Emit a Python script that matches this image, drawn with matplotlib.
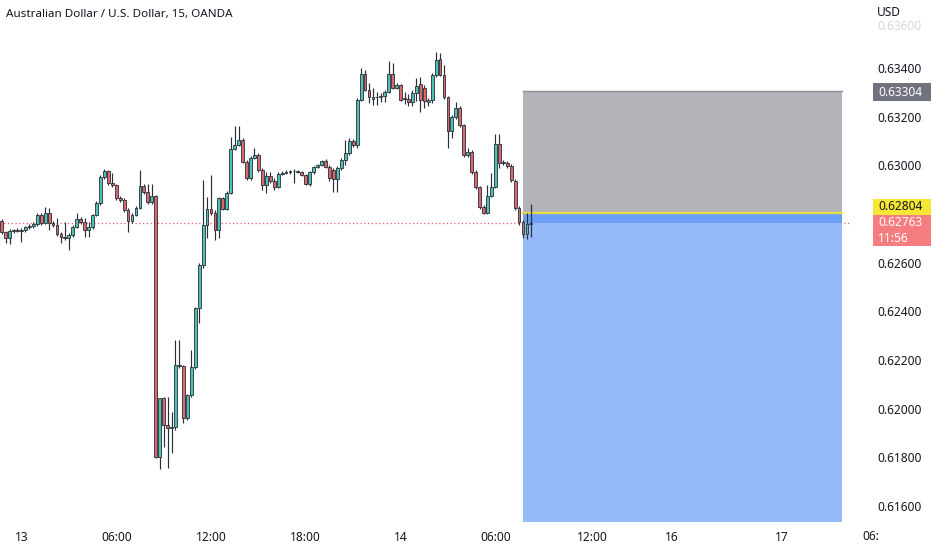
import matplotlib
matplotlib.use("Agg")
import matplotlib.pyplot as plt
from matplotlib.patches import Rectangle

# AUDUSD 15m candles (OANDA)
opens = [
    0.62771, 0.62726, 0.62701, 0.62730, 0.62734, 0.62730, 0.62734, 0.62747, 0.62751, 0.62759,
    0.62796, 0.62763, 0.62804, 0.62763, 0.62755, 0.62718, 0.62705, 0.62701, 0.62714, 0.62747,
    0.62779, 0.62767, 0.62734, 0.62747, 0.62796, 0.62845, 0.62952, 0.62977, 0.62927, 0.62919,
    0.62866, 0.62858, 0.62816, 0.62771, 0.62796, 0.62825, 0.62915, 0.62890, 0.62849, 0.62874,
    0.61801, 0.62044, 0.61933, 0.61920, 0.61925, 0.62179, 0.62175, 0.61962, 0.62056, 0.62171,
    0.62414, 0.62590, 0.62755, 0.62821, 0.62804, 0.62734, 0.62866, 0.62821, 0.62886, 0.63067,
    0.63084, 0.63104, 0.63014, 0.62948, 0.63030, 0.63042, 0.62981, 0.62919, 0.62956, 0.62936,
    0.62911, 0.62964, 0.62968, 0.62973, 0.62977, 0.62977, 0.62973, 0.62960, 0.62923, 0.62973,
    0.62993, 0.63001, 0.63018, 0.62993, 0.62981, 0.62944, 0.62989, 0.63022, 0.63051, 0.63100,
    0.63084, 0.63269, 0.63375, 0.63310, 0.63273, 0.63281, 0.63281, 0.63285, 0.63301, 0.63375,
    0.63318, 0.63330, 0.63277, 0.63273, 0.63260, 0.63297, 0.63334, 0.63318, 0.63260, 0.63269,
    0.63371, 0.63437, 0.63371, 0.63281, 0.63141, 0.63199, 0.63236, 0.63166, 0.63042, 0.63055,
    0.62973, 0.62911, 0.62829, 0.62804, 0.62874, 0.62911, 0.63088, 0.63014, 0.63010, 0.62997,
    0.62936, 0.62825, 0.62766, 0.62718, 0.62759,
]
highs = [
    0.62779, 0.62730, 0.62738, 0.62738, 0.62742, 0.62742, 0.62751, 0.62759, 0.62767, 0.62804,
    0.62804, 0.62829, 0.62825, 0.62771, 0.62784, 0.62726, 0.62767, 0.62722, 0.62755, 0.62804,
    0.62788, 0.62784, 0.62767, 0.62800, 0.62853, 0.62960, 0.62985, 0.62981, 0.62968, 0.62923,
    0.62874, 0.62866, 0.62825, 0.62804, 0.62833, 0.62981, 0.62923, 0.62923, 0.62923, 0.62878,
    0.62044, 0.62048, 0.62048, 0.61986, 0.62282, 0.62282, 0.62179, 0.62060, 0.62241, 0.62418,
    0.62599, 0.62940, 0.62870, 0.62960, 0.62816, 0.62870, 0.62870, 0.62894, 0.63116, 0.63162,
    0.63162, 0.63112, 0.63022, 0.63038, 0.63071, 0.63051, 0.62989, 0.62973, 0.62973, 0.62948,
    0.62973, 0.62977, 0.62981, 0.62981, 0.62985, 0.62981, 0.62977, 0.62964, 0.62977, 0.62997,
    0.63005, 0.63022, 0.63026, 0.63001, 0.62989, 0.62997, 0.63030, 0.63104, 0.63112, 0.63108,
    0.63277, 0.63400, 0.63392, 0.63338, 0.63318, 0.63301, 0.63297, 0.63310, 0.63429, 0.63421,
    0.63338, 0.63334, 0.63301, 0.63293, 0.63310, 0.63359, 0.63363, 0.63330, 0.63277, 0.63379,
    0.63466, 0.63462, 0.63412, 0.63285, 0.63207, 0.63260, 0.63244, 0.63170, 0.63071, 0.63063,
    0.62981, 0.62915, 0.62837, 0.62919, 0.62968, 0.63129, 0.63129, 0.63022, 0.63018, 0.63005,
    0.62944, 0.62833, 0.62775, 0.62804, 0.62841,
]
lows = [
    0.62718, 0.62681, 0.62677, 0.62722, 0.62726, 0.62685, 0.62726, 0.62738, 0.62742, 0.62751,
    0.62755, 0.62759, 0.62734, 0.62747, 0.62710, 0.62681, 0.62693, 0.62652, 0.62705, 0.62742,
    0.62759, 0.62705, 0.62705, 0.62738, 0.62792, 0.62837, 0.62944, 0.62919, 0.62911, 0.62858,
    0.62849, 0.62808, 0.62726, 0.62763, 0.62792, 0.62821, 0.62882, 0.62841, 0.62841, 0.61797,
    0.61752, 0.61842, 0.61756, 0.61818, 0.61912, 0.62167, 0.61941, 0.61953, 0.62048, 0.62163,
    0.62352, 0.62578, 0.62701, 0.62796, 0.62693, 0.62701, 0.62816, 0.62816, 0.62882, 0.63063,
    0.63079, 0.63010, 0.62940, 0.62940, 0.63026, 0.62973, 0.62899, 0.62886, 0.62927, 0.62899,
    0.62907, 0.62960, 0.62964, 0.62964, 0.62927, 0.62968, 0.62956, 0.62919, 0.62915, 0.62964,
    0.62989, 0.62997, 0.62989, 0.62936, 0.62890, 0.62890, 0.62981, 0.63001, 0.63042, 0.63075,
    0.63071, 0.63264, 0.63305, 0.63256, 0.63248, 0.63248, 0.63260, 0.63260, 0.63297, 0.63314,
    0.63314, 0.63264, 0.63252, 0.63244, 0.63244, 0.63264, 0.63219, 0.63236, 0.63244, 0.63256,
    0.63363, 0.63367, 0.63273, 0.63071, 0.63112, 0.63190, 0.63158, 0.63034, 0.63034, 0.62964,
    0.62903, 0.62821, 0.62800, 0.62800, 0.62870, 0.62907, 0.62989, 0.63001, 0.62989, 0.62931,
    0.62816, 0.62755, 0.62701, 0.62697, 0.62705,
]
closes = [
    0.62726, 0.62701, 0.62730, 0.62734, 0.62730, 0.62734, 0.62747, 0.62751, 0.62759, 0.62796,
    0.62763, 0.62804, 0.62763, 0.62755, 0.62718, 0.62705, 0.62701, 0.62714, 0.62747, 0.62779,
    0.62767, 0.62734, 0.62747, 0.62796, 0.62845, 0.62952, 0.62977, 0.62927, 0.62919, 0.62866,
    0.62858, 0.62816, 0.62771, 0.62796, 0.62825, 0.62915, 0.62890, 0.62849, 0.62874, 0.61801,
    0.62044, 0.61933, 0.61920, 0.61925, 0.62179, 0.62175, 0.61962, 0.62056, 0.62171, 0.62414,
    0.62590, 0.62755, 0.62821, 0.62804, 0.62734, 0.62866, 0.62821, 0.62886, 0.63067, 0.63084,
    0.63104, 0.63014, 0.62948, 0.63030, 0.63042, 0.62981, 0.62919, 0.62956, 0.62936, 0.62911,
    0.62964, 0.62968, 0.62973, 0.62977, 0.62975, 0.62973, 0.62960, 0.62923, 0.62973, 0.62993,
    0.63001, 0.63018, 0.62993, 0.62948, 0.62944, 0.62989, 0.63022, 0.63051, 0.63100, 0.63084,
    0.63269, 0.63375, 0.63310, 0.63281, 0.63281, 0.63280, 0.63285, 0.63301, 0.63375, 0.63318,
    0.63330, 0.63269, 0.63273, 0.63260, 0.63297, 0.63326, 0.63269, 0.63264, 0.63269, 0.63371,
    0.63433, 0.63371, 0.63281, 0.63141, 0.63199, 0.63236, 0.63166, 0.63042, 0.63055, 0.62973,
    0.62911, 0.62829, 0.62804, 0.62874, 0.62911, 0.63088, 0.63010, 0.63010, 0.62997, 0.62940,
    0.62825, 0.62766, 0.62718, 0.62759, 0.62763,
]

# position tool (drawn on the chart) and price-axis markers
stop_price = 0.63304
entry_price = 0.62804
target_price = 0.61534
last_price = 0.62763
countdown = "11:56"
tool_start, tool_end = 132.0, 212.7

price_ticks = [0.616, 0.618, 0.620, 0.622, 0.624, 0.626, 0.630, 0.632, 0.634]
time_ticks = [5, 29, 53, 77, 101, 125, 149.5, 169.7, 197.6]
time_labels = ["13", "06:00", "12:00", "18:00", "14", "06:00", "12:00", "16", "17"]

UP = "#4fc1b4"
DOWN = "#d9686b"
EDGE = "#2a2e39"
TXT = "#131722"

plt.rcParams["font.family"] = ["Noto Sans", "DejaVu Sans"]

W, H = 932, 550
fig = plt.figure(figsize=(W / 100, H / 100), dpi=100)
fig.patch.set_facecolor("white")
ax = fig.add_axes([0, 25 / H, 850 / W, 525 / H])
ax.set_xlim(-0.43, 214.8)
ax.set_ylim(0.615218, 0.636795)

# =========================
# Position tool
# =========================
ax.add_patch(Rectangle((tool_start, entry_price), tool_end - tool_start,
                       stop_price - entry_price, facecolor="#b3b4ba",
                       edgecolor="none", zorder=1))
ax.plot([tool_start, tool_end], [stop_price, stop_price], color="#8e9099", lw=1, zorder=1.5)
ax.add_patch(Rectangle((tool_start, target_price), tool_end - tool_start,
                       entry_price - target_price, facecolor="#96bbf9",
                       edgecolor="none", zorder=1))
ax.add_patch(Rectangle((tool_start, last_price), tool_end - tool_start,
                       entry_price - last_price, facecolor="#6b9ff5",
                       edgecolor="none", zorder=1.2))
ax.plot([tool_start, tool_end], [entry_price, entry_price], color="#ecdc3c", lw=1.6, zorder=1.6)

# last price dotted line
ax.axhline(last_price, color="#ee5f66", lw=0.9, ls=(0, (1, 2)), zorder=0.8)

# =========================
# Candles
# =========================
for i, (o, h, l, c) in enumerate(zip(opens, highs, lows, closes)):
    col = UP if c >= o else DOWN
    ax.vlines(i, l, h, color=EDGE, lw=0.85, zorder=2)
    ax.bar(i, max(abs(c - o), 0.00002), bottom=min(o, c), width=0.72,
           color=col, edgecolor=EDGE, linewidth=0.6, zorder=3)

# =========================
# Axes styling
# =========================
for s in ax.spines.values():
    s.set_visible(False)
ax.yaxis.tick_right()
ax.set_yticks(price_ticks)
ax.set_yticklabels([f"{p:.5f}" for p in price_ticks])
ax.tick_params(axis="y", length=0, pad=20, labelsize=8.6, labelcolor=TXT)
ax.set_xticks(time_ticks)
ax.set_xticklabels(time_labels)
ax.tick_params(axis="x", length=0, pad=4.5, labelsize=8.6, labelcolor=TXT)
ax.get_xticklabels()[-1].set_fontweight("bold")

fig.text(862 / W, 1 - 537 / H, "06:", fontsize=8.6, color=TXT, va="center")
# top tick label, mostly hidden under the currency tag
fig.text(877 / W, 1 - 27 / H, "0.63600", fontsize=8.6, color="#d6d8dd", va="center")
fig.text(877 / W, 1 - 12 / H, "USD", fontsize=8.6, color=TXT, va="center")

fig.text(6 / W, 1 - 15 / H, "Australian Dollar / U.S. Dollar, 15, OANDA",
         fontsize=8.4, color=TXT, va="center")


# price-axis badges
def badge(y0, y1, color, lines, tcol):
    fig.add_artist(Rectangle((873 / W, 1 - y1 / H), 58 / W, (y1 - y0) / H,
                             transform=fig.transFigure, facecolor=color,
                             edgecolor="none"))
    n = len(lines)
    for k, t in enumerate(lines):
        yc = y0 + (y1 - y0) * (k + 0.5) / n
        fig.text(878 / W, 1 - yc / H, t, fontsize=8.6, color=tcol, va="center")


badge(83, 101, "#70737e", [f"{stop_price:.5f}"], "white")
badge(199, 215, "#f7e634", [f"{entry_price:.5f}"], TXT)
badge(215, 246, "#f57d80", [f"{last_price:.5f}", countdown], "white")

fig.savefig("out.png", dpi=100, facecolor="white")
